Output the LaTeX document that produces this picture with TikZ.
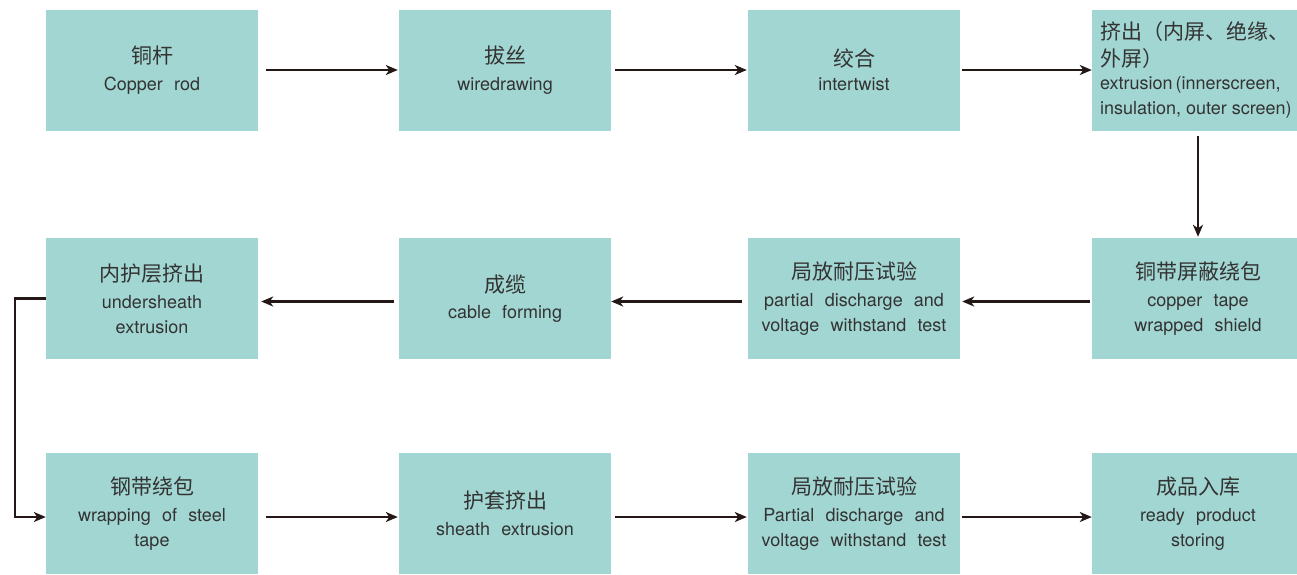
\documentclass[tikz,border=0pt]{standalone}
\usepackage{fontspec}
\setmainfont{Noto Sans CJK SC}
\newfontfamily\enfam{TeX Gyre Heros}
\usetikzlibrary{arrows.meta,calc}
\definecolor{boxc}{HTML}{A2D6D2}
\definecolor{txtc}{HTML}{333333}
\definecolor{arrc}{HTML}{231815}
\newcommand{\zh}[1]{{\fontsize{21}{24}\selectfont #1}}
\newcommand{\en}[1]{{\enfam\fontsize{18}{24}\selectfont\spaceskip=0.62em plus 0.1em #1}}
\newcommand{\entight}[1]{{\enfam\fontsize{18}{24}\selectfont\spaceskip=0.28em #1}}
\tikzset{
  box/.style={fill=boxc,draw=none,minimum width=212pt,minimum height=121pt,inner sep=0pt,align=center,text=txtc,font=\fontsize{18}{24.5}\selectfont},
  conn/.style={draw=arrc,line width=2.2pt,-{Stealth[length=12pt,width=10pt,inset=3.5pt]}}
}
\begin{document}
\begin{tikzpicture}[x=1pt,y=-1pt]
\useasboundingbox (0,0) rectangle (1297,574);
% row 1
\node[box] (b11) at (152,70) {\zh{铜杆}\\[2pt]\en{Copper rod}};
\node[box] (b12) at (505,70) {\zh{拔丝}\\[2pt]\en{wiredrawing}};
\node[box] (b13) at (854,70) {\zh{绞合}\\[0pt]\en{intertwist}};
\node[box,align=left,text width=196pt] (b14) at (1198,70) {\mbox{\zh{挤出（内屏、绝缘、}}\\[2pt]\mbox{\zh{外屏）}}\\[-1pt]\mbox{\entight{extrusion\,(innerscreen,}}\\\mbox{\entight{insulation, outer screen)}}};
% row 2
\node[box] (b21) at (152,298.5) {\zh{内护层挤出}\\[3pt]\en{undersheath}\\\en{extrusion}};
\node[box] (b22) at (505,298.5) {\zh{成缆}\\[2pt]\en{cable forming}};
\node[box] (b23) at (854,298.5) {\zh{局放耐压试验}\\[3pt]\en{partial discharge and}\\\en{voltage withstand test}};
\node[box] (b24) at (1198,298.5) {\zh{铜带屏蔽绕包}\\[3pt]\en{copper tape}\\\en{wrapped shield}};
% row 3
\node[box] (b31) at (152,513.5) {\zh{钢带绕包}\\[3pt]\en{wrapping of steel}\\\en{tape}};
\node[box] (b32) at (505,513.5) {\zh{护套挤出}\\[2pt]\en{sheath extrusion}};
\node[box] (b33) at (854,513.5) {\zh{局放耐压试验}\\[3pt]\en{Partial discharge and}\\\en{voltage withstand test}};
\node[box] (b34) at (1198,513.5) {\zh{成品入库}\\[3pt]\en{ready product}\\\en{storing}};
% connectors
\draw[conn,shorten <=8pt,shorten >=1pt] (b11.east) -- (b12.west);
\draw[conn,shorten <=4pt,shorten >=1pt] (b12.east) -- (b13.west);
\draw[conn,shorten <=2pt,shorten >=0pt] (b13.east) -- (b14.west);
\draw[conn,shorten <=5pt,shorten >=1pt] (b14.south) -- (b24.north);
\draw[conn,shorten <=2pt,shorten >=2pt] ($(b24.west)+(0,3)$) -- ($(b23.east)+(0,3)$);
\draw[conn,shorten <=6pt,shorten >=0pt] ($(b23.west)+(0,3)$) -- ($(b22.east)+(0,3)$);
\draw[conn,shorten <=5pt,shorten >=3pt] ($(b22.west)+(0,3)$) -- ($(b21.east)+(0,3)$);
\draw[conn] (b21.west) -- ++(-31,0) |- ($(b31.west)+(0,3.5)$);
\draw[conn,shorten <=8pt,shorten >=1pt] ($(b31.east)+(0,3.5)$) -- ($(b32.west)+(0,3.5)$);
\draw[conn,shorten <=4pt,shorten >=1pt] ($(b32.east)+(0,3.5)$) -- ($(b33.west)+(0,3.5)$);
\draw[conn,shorten <=2pt,shorten >=0pt] ($(b33.east)+(0,3.5)$) -- ($(b34.west)+(0,3.5)$);
\end{tikzpicture}
\end{document}
